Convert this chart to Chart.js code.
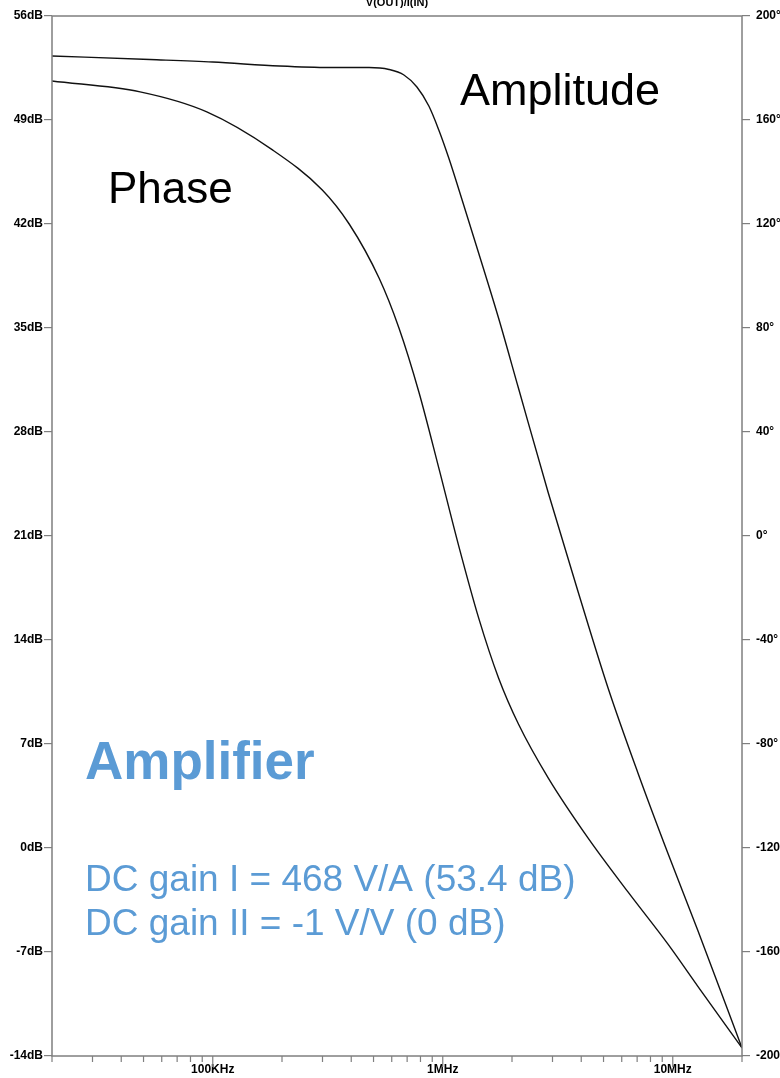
<!DOCTYPE html>
<html>
<head>
<meta charset="utf-8">
<script src="https://cdn.jsdelivr.net/npm/chart.js@4.4.0/dist/chart.umd.min.js"></script>
<style>
  html, body { margin: 0; padding: 0; background: #fff; }
</style>
</head>
<body>
<canvas id="bode" width="780" height="1078"></canvas>
<script>
// amplitude (left axis, dB)
const ampFreq = [20000, 53300, 100000, 195000, 321000, 478000, 584000, 678000, 772000, 870000, 961000, 1062000, 1233000, 1432000, 1748000, 2133000, 2877000, 3879000, 5232000, 7056000, 9515000, 12830000, 20000000];
const ampDb = [53.31, 53.07, 52.90, 52.63, 52.53, 52.53, 52.40, 52.03, 51.22, 49.94, 48.33, 46.44, 43.28, 40.05, 35.67, 30.96, 23.89, 17.23, 10.77, 5.05, -0.34, -5.52, -13.46];

// phase (right axis, degrees)
const phaseFreq = [20000, 48300, 94200, 181800, 299400, 391900, 528400, 644900, 787200, 960900, 1173000, 1432000, 1748000, 2133000, 2877000, 4286000, 6386000, 9515000, 12830000, 20000000];
const phaseDeg = [175.0, 170.8, 163.1, 148.5, 133.1, 120.0, 99.2, 80.0, 55.4, 26.2, -3.8, -31.5, -54.6, -72.3, -93.1, -116.2, -136.9, -156.9, -173.1, -196.9];

const freqTicks = [20e3, 30e3, 40e3, 50e3, 60e3, 70e3, 80e3, 90e3,
  1e5, 2e5, 3e5, 4e5, 5e5, 6e5, 7e5, 8e5, 9e5,
  1e6, 2e6, 3e6, 4e6, 5e6, 6e6, 7e6, 8e6, 9e6,
  1e7, 2e7];
const freqLabels = { 100000: '100KHz', 1000000: '1MHz', 10000000: '10MHz' };
const dbTicks = [-14, -7, 0, 7, 14, 21, 28, 35, 42, 49, 56];
const degTicks = [-200, -160, -120, -80, -40, 0, 40, 80, 120, 160, 200];

const axisGray = '#7f7f7f';
const tickFont = { family: 'Liberation Sans', size: 12, weight: 'bold' };
const blue = '#5b9bd5';

const overlay = {
  id: 'overlay',
  afterDraw(chart) {
    const ctx = chart.ctx;
    const a = chart.chartArea;
    const xs = chart.scales.x;
    ctx.save();
    ctx.strokeStyle = axisGray;
    ctx.lineWidth = 1.5;
    ctx.strokeRect(a.left, a.top, a.right - a.left, a.bottom - a.top);

    // minor / major ticks on the frequency axis
    ctx.lineWidth = 1.2;
    xs.ticks.forEach(t => {
      const px = xs.getPixelForValue(t.value);
      const len = freqLabels[t.value] ? 11 : 6;
      ctx.beginPath();
      ctx.moveTo(px, a.bottom);
      ctx.lineTo(px, a.bottom + len);
      ctx.stroke();
    });

    // half-clipped title
    ctx.fillStyle = '#000';
    ctx.font = 'bold 11px "Liberation Sans"';
    ctx.textAlign = 'center';
    ctx.fillText('V(OUT)/I(IN)', 397, 6);

    ctx.textAlign = 'left';
    ctx.font = '45px "Liberation Sans"';
    ctx.fillText('Amplitude', 460, 105);
    ctx.font = '44px "Liberation Sans"';
    ctx.fillText('Phase', 108, 203);

    ctx.fillStyle = blue;
    ctx.font = 'bold 53px "Liberation Sans"';
    ctx.fillText('Amplifier', 85, 779);
    ctx.font = '37px "Liberation Sans"';
    ctx.fillText('DC gain I = 468 V/A (53.4 dB)', 85, 891);
    ctx.fillText('DC gain II = -1 V/V (0 dB)', 85, 935);
    ctx.restore();
  }
};

new Chart(document.getElementById('bode'), {
  type: 'line',
  data: {
    datasets: [
      {
        label: 'Amplitude',
        data: ampFreq.map((f, i) => ({ x: f, y: ampDb[i] })),
        yAxisID: 'y',
        borderColor: '#111',
        borderWidth: 1.4,
        pointRadius: 0,
        cubicInterpolationMode: 'monotone'
      },
      {
        label: 'Phase',
        data: phaseFreq.map((f, i) => ({ x: f, y: phaseDeg[i] })),
        yAxisID: 'y2',
        borderColor: '#111',
        borderWidth: 1.4,
        pointRadius: 0,
        cubicInterpolationMode: 'monotone'
      }
    ]
  },
  options: {
    responsive: false,
    animation: false,
    devicePixelRatio: 1,
    layout: { padding: { top: 16, left: 0, right: 0, bottom: 0 } },
    plugins: {
      legend: { display: false },
      tooltip: { enabled: false }
    },
    scales: {
      x: {
        type: 'logarithmic',
        min: 20000,
        max: 20000000,
        afterBuildTicks: scale => { scale.ticks = freqTicks.map(v => ({ value: v })); },
        afterFit: scale => { scale.height = 22; },
        grid: { display: false, drawTicks: true, tickLength: 4 },
        border: { display: false },
        ticks: {
          autoSkip: false,
          maxRotation: 0,
          padding: 2,
          color: '#000',
          font: tickFont,
          callback: v => freqLabels[v] || ''
        }
      },
      y: {
        position: 'left',
        min: -14,
        max: 56,
        afterBuildTicks: scale => { scale.ticks = dbTicks.map(v => ({ value: v })); },
        afterFit: scale => { scale.width = 52; },
        grid: { drawOnChartArea: false, tickLength: 8, color: axisGray, lineWidth: 1.2 },
        border: { display: false },
        ticks: {
          padding: 1,
          color: '#000',
          font: tickFont,
          callback: v => v + 'dB'
        }
      },
      y2: {
        position: 'right',
        min: -200,
        max: 200,
        afterBuildTicks: scale => { scale.ticks = degTicks.map(v => ({ value: v })); },
        afterFit: scale => { scale.width = 38; },
        grid: { drawOnChartArea: false, tickLength: 8, color: axisGray, lineWidth: 1.2 },
        border: { display: false },
        ticks: {
          padding: 6,
          color: '#000',
          font: tickFont,
          callback: v => v + '°'
        }
      }
    }
  },
  plugins: [overlay]
});
</script>
</body>
</html>
